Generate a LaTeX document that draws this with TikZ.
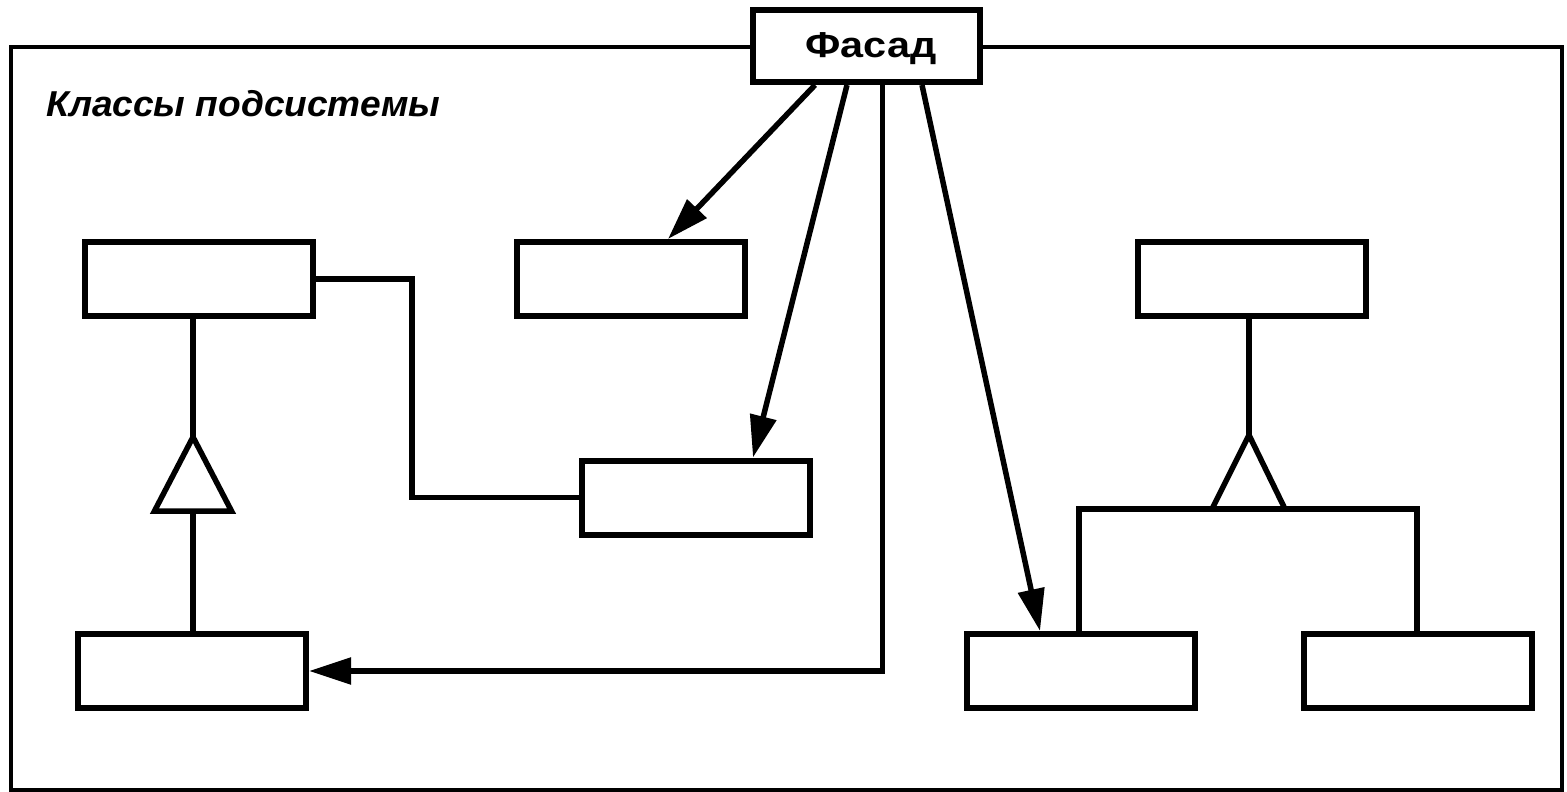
\documentclass[tikz,border=0pt]{standalone}
\usepackage{fontspec}
\newfontfamily\arialfont{Liberation Sans}
\usetikzlibrary{arrows.meta,calc}
\begin{document}
\begin{tikzpicture}[x=1pt,y=-1pt,
  cls/.style={draw,line width=6pt,fill=white,minimum width=228pt,minimum height=74pt,inner sep=0pt},
  conn/.style={line width=5.5pt},
  assoc/.style={conn,-{Triangle[length=42pt,width=26pt]}},
  frame/.style={line width=3.5pt}]
\useasboundingbox[fill=white] (0,0) rectangle (1567,792);
\draw[frame] (11,47) rectangle (1562,790);
\node[cls,minimum width=227pt,minimum height=72pt] (fac) at (866.5,46) {};
\node[anchor=base,font=\arialfont\bfseries\fontsize{36}{40}\selectfont,inner sep=0pt] (factxt) at (871,58) {\scalebox{1.15}[1]{Фасад}};
\node[anchor=base west,font=\arialfont\bfseries\itshape\fontsize{36}{40}\selectfont,inner sep=0pt] (title) at (46,117) {\scalebox{1.03}[1]{Классы подсистемы}};
\node[cls] (A) at (199,279) {};
\node[cls] (B) at (630.5,279) {};
\node[cls] (C) at (695.5,497.5) {};
\node[cls] (D) at (192,671) {};
\node[cls] (E) at (1251.5,279) {};
\node[cls] (F) at (1081,671) {};
\node[cls] (G) at (1418,671) {};
% facade associations
\draw[assoc] ([xshift=-51.5pt]fac.south) -- ([xshift=37.5pt]B.north);
\draw[assoc] ([xshift=-19.5pt]fac.south) -- ([xshift=57.5pt]C.north);
\draw[assoc] ([xshift=16pt]fac.south) |- (D.east);
\draw[assoc] ([xshift=55.5pt]fac.south) -- ([xshift=-41pt]F.north);
% A to C
\draw[conn] (A.east) -- ++(96,0) |- (C.west);
% left inheritance
\coordinate (t1) at (193,437);
\coordinate (t1b) at (193,511);
\draw[conn] (t1 |- A.south) -- (t1);
\draw[conn,line join=miter] (t1) -- ++(-38.5,74) -- ++(77,0) -- cycle;
\draw[conn] (t1b) -- (t1b |- D.north);
% right inheritance
\coordinate (t2) at (1249,435);
\coordinate (bar) at (1417,509);
\draw[conn] (t2 |- E.south) -- (t2);
\draw[conn,line join=miter] ($(t2)+(-37,74)$) -- (t2) -- ($(t2)+(36,74)$);
\draw[conn] ([xshift=-2pt]F.north) |- (bar) -- (bar |- G.north);
\end{tikzpicture}
\end{document}
